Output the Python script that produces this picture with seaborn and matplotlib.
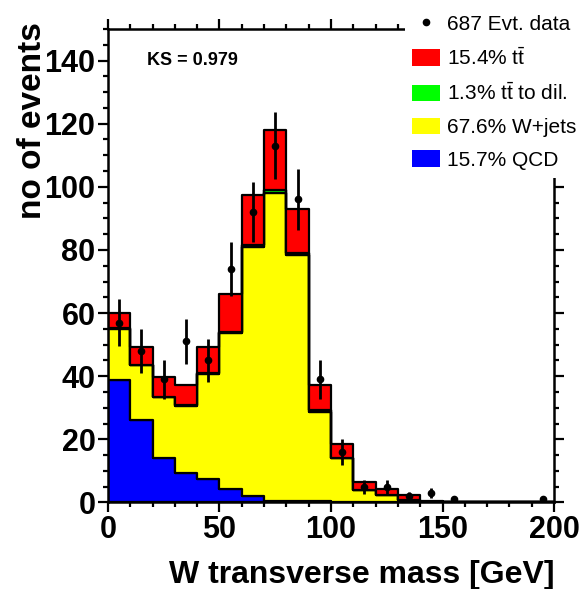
import numpy as np
import pandas as pd
import matplotlib
matplotlib.use("Agg")
import matplotlib.pyplot as plt
import seaborn as sns
from matplotlib.patches import Patch, Rectangle
from matplotlib.lines import Line2D
from matplotlib.ticker import MultipleLocator

# ---------------- data ----------------
bin_edges = list(range(0, 201, 10))
bin_centers = [5, 15, 25, 35, 45, 55, 65, 75, 85, 95,
               105, 115, 125, 135, 145, 155, 165, 175, 185, 195]

qcd = [38.8, 26.2, 14.0, 9.4, 7.4, 4.3, 2.2, 0.6, 0.5, 0.4,
       0.3, 0.2, 0.1, 0.1, 0.05, 0.05, 0.0, 0.0, 0.0, 0.0]
wjets = [16.2, 17.3, 19.3, 21.2, 33.2, 49.3, 78.8, 97.4, 77.8, 28.4,
         13.7, 3.6, 2.3, 0.7, 0.15, 0.05, 0.1, 0.05, 0.05, 0.05]
ttdil = [0.2, 0.2, 0.2, 0.2, 0.3, 0.5, 0.7, 1.0, 0.8, 0.4,
         0.2, 0.1, 0.1, 0.1, 0.05, 0.0, 0.0, 0.0, 0.0, 0.0]
tt = [4.8, 5.6, 6.3, 6.4, 8.4, 11.8, 15.6, 18.9, 14.0, 8.0,
      4.3, 2.5, 1.8, 1.4, 0.25, 0.2, 0.1, 0.05, 0.05, 0.05]
data = [57, 48, 39, 51, 45, 74, 92, 113, 96, 39,
        16, 5, 5, 2, 3, 1, 0, 0, 0, 1]

labels = ["15.4% $\\mathrm{t\\bar{t}}$",
          "1.3% $\\mathrm{t\\bar{t}}$ to dil.",
          "67.6% W+jets",
          "15.7% QCD"]
data_label = "687 Evt. data"
colors = ["#ff0000", "#00ff00", "#ffff00", "#0000ff"]
ks_text = "KS = 0.979"
xlabel = "W transverse mass [GeV]"
ylabel = "no of events"

# ---------------- style ----------------
sns.set_style("ticks")
plt.rcParams["font.family"] = ["Liberation Sans", "DejaVu Sans"]
plt.rcParams["mathtext.fontset"] = "custom"
plt.rcParams["mathtext.rm"] = "Liberation Sans"
for key in ["text.color", "axes.labelcolor", "xtick.color", "ytick.color",
            "axes.edgecolor"]:
    plt.rcParams[key] = "black"

comps = ["tt", "ttdil", "wjets", "qcd"]
df = pd.DataFrame({
    "mt": bin_centers * 4,
    "w": tt + ttdil + wjets + qcd,
    "comp": sum([[c] * len(bin_centers) for c in comps], []),
})

fig = plt.figure(figsize=(5.83, 5.89), dpi=100)
ax = fig.add_axes([0.1852, 0.1469, 0.7651, 0.8039])

sns.histplot(data=df, x="mt", weights="w", hue="comp", hue_order=comps,
             multiple="stack", bins=bin_edges, element="step", fill=True,
             palette=dict(zip(comps, colors)), alpha=1.0,
             edgecolor="black", linewidth=1.6, legend=False, ax=ax)

# data points with sqrt(N) errors
dx = np.array(bin_centers, dtype=float)
dy = np.array(data, dtype=float)
m = dy > 0
ax.errorbar(dx[m], dy[m], yerr=np.sqrt(dy[m]), fmt="o", color="black",
            markersize=4.5, elinewidth=2.0, capsize=0, zorder=10)

ax.set_xlim(0, 200)
ax.set_ylim(0, 150)
ax.xaxis.set_major_locator(MultipleLocator(50))
ax.xaxis.set_minor_locator(MultipleLocator(10))
ax.yaxis.set_major_locator(MultipleLocator(20))
ax.yaxis.set_minor_locator(MultipleLocator(5))
ax.tick_params(which="both", direction="out", top=True, right=True,
               width=1.6, color="black", labelcolor="black")
ax.tick_params(which="major", length=7, labelsize=22, pad=2)
ax.tick_params(which="minor", length=3.5)
for lab in ax.get_xticklabels() + ax.get_yticklabels():
    lab.set_fontweight("bold")
for sp in ax.spines.values():
    sp.set_linewidth(1.8)
    sp.set_color("black")

ax.set_xlabel(xlabel, fontsize=23, fontweight="bold", loc="right",
              color="black")
ax.xaxis.set_label_coords(1.0, -0.122)
ax.set_ylabel(ylabel, fontsize=24, fontweight="bold", loc="top",
              color="black")
ax.yaxis.set_label_coords(-0.135, 1.015)

ax.text(17.5, 140, ks_text, fontsize=13, fontweight="bold",
        ha="left", va="center", color="black")

# white area behind legend covering the frame corner
fig.patches.append(Rectangle((405 / 583, 1 - 178 / 589), 1, 1,
                             transform=fig.transFigure, facecolor="white",
                             edgecolor="none", zorder=3))

handles = [Line2D([], [], marker="o", color="black", linestyle="none",
                  markersize=4.5)]
handles += [Patch(facecolor=c, edgecolor="none") for c in colors]
fig.legend(handles, [data_label] + labels, loc="upper left",
           bbox_to_anchor=(398 / 583, 1.0), frameon=False, fontsize=15,
           handlelength=1.35, handleheight=0.85, handletextpad=0.3,
           labelspacing=0.64, borderpad=0.68, borderaxespad=0.0,
           labelcolor="black")

fig.savefig("out.png", dpi=100)
